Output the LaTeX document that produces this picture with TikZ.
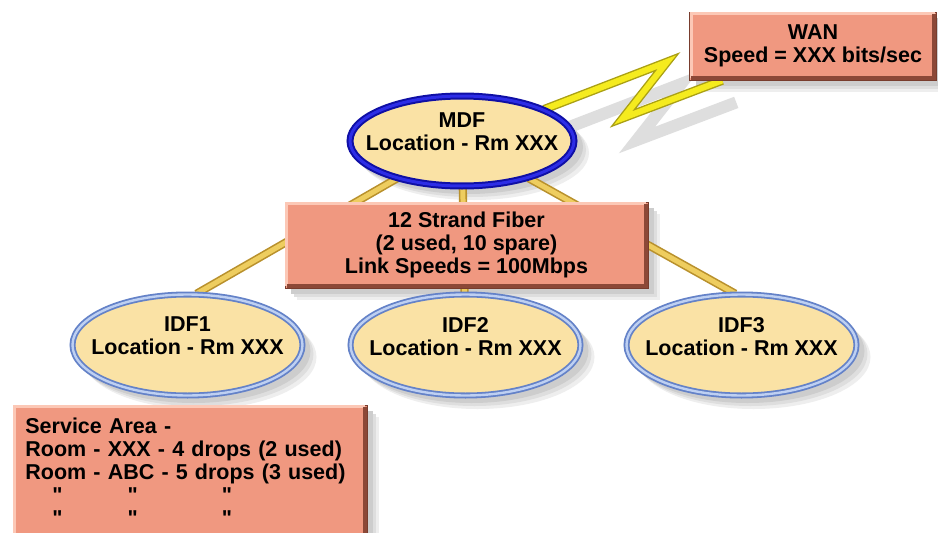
\documentclass[tikz,border=0pt]{standalone}
\usepackage{fontspec}
\setmainfont{Liberation Sans}[Ligatures=TeXOff]
\usetikzlibrary{shapes.geometric}
\pgfdeclarelayer{bg}
\pgfsetlayers{bg,main}
\definecolor{salmon}{RGB}{240,152,128}
\definecolor{salmonlight}{RGB}{252,200,182}
\definecolor{salmondark}{RGB}{140,72,55}
\definecolor{salmonedge}{RGB}{120,60,45}
\definecolor{ellfill}{RGB}{250,226,165}
\definecolor{mdfdark}{RGB}{15,15,165}
\definecolor{mdfmid}{RGB}{45,45,230}
\definecolor{idfdark}{RGB}{100,130,200}
\definecolor{idflight}{RGB}{190,208,242}
\definecolor{pipeedge}{RGB}{185,145,45}
\definecolor{pipefill}{RGB}{238,205,95}
\definecolor{boltfill}{RGB}{245,235,30}
\definecolor{boltedge}{RGB}{170,160,20}
\definecolor{shadeA}{RGB}{238,238,238}
\definecolor{shadeB}{RGB}{222,222,222}
\definecolor{shadeC}{RGB}{205,205,205}
\tikzset{
  lbl/.style={font=\bfseries\fontsize{21.5}{23}\selectfont, text=black},
  salmonbox/.style={lbl, rectangle, fill=salmon, draw=salmonedge, line width=0.8pt,
    inner sep=0pt, align=center},
  bevlight/.style={salmonlight, line width=3pt},
  bevdark/.style={salmondark, line width=4pt},
  ellbase/.style={lbl, ellipse, fill=ellfill, inner xsep=-45pt, inner ysep=-20pt,
    align=center, text depth=18pt},
  mdfnode/.style={ellbase, draw=mdfdark, double=mdfmid, line width=2pt, double distance=3pt,
    minimum width=224pt, minimum height=90pt},
  idfnode/.style={ellbase, draw=idfdark, double=idflight, line width=1.8pt, double distance=2.4pt,
    minimum width=230pt, minimum height=101pt},
  pipe/.style={draw=pipeedge, double=pipefill, line width=1.6pt, double distance=5pt},
  bolt/.style={draw=boltedge, double=boltfill, line width=1.4pt, double distance=6pt,
    line join=miter, miter limit=30},
  boltshadow/.style={draw=shadeB, line width=12pt, line join=miter, miter limit=30}
}
\begin{document}
\begin{tikzpicture}[x=1pt,y=-1pt]
\useasboundingbox (0,0) rectangle (938,533);
\begin{pgfonlayer}{bg}
  \fill[white] (0,0) rectangle (938,533);
  \foreach \s/\c in {12/shadeA, 9/shadeB, 6/shadeC}{
    \fill[\c] (689.5+\s,12+\s) rectangle (936.5+\s,80+\s);
    \fill[\c] (285+\s,202+\s) rectangle (648+\s,288+\s);
    \fill[\c] (13+\s,405+\s) rectangle (367+\s,545+\s);
    \fill[\c] (462+\s,141+\s) ellipse [x radius=115, y radius=47];
    \fill[\c] (187.5+\s,345+\s) ellipse [x radius=117, y radius=52];
    \fill[\c] (465.5+\s,345+\s) ellipse [x radius=117, y radius=52];
    \fill[\c] (741.5+\s,345+\s) ellipse [x radius=117, y radius=52];
  }
\end{pgfonlayer}

\node[salmonbox, minimum width=247pt, minimum height=68pt] (wan) at (813,46)
  {WAN\\Speed = XXX bits/sec};
\draw[bevlight] (691,78) -- (691,13.5) -- (934.5,13.5);
\draw[bevdark] (934,13.5) -- (934,77.5) -- (691,77.5);

\node[mdfnode] (mdf) at (462,141) {MDF\\Location - Rm XXX};

\node[salmonbox, minimum width=363pt, minimum height=86pt] (fiber) at (466.5,245)
  {12 Strand Fiber\\(2 used, 10 spare)\\Link Speeds = 100Mbps};
\draw[bevlight] (286.5,286) -- (286.5,203.5) -- (646,203.5);
\draw[bevdark] (645.5,203.5) -- (645.5,285.5) -- (287,285.5);

\node[idfnode] (idf1) at (187.5,345) {IDF1\\Location - Rm XXX};
\node[idfnode] (idf2) at (465.5,345) {IDF2\\Location - Rm XXX};
\node[idfnode] (idf3) at (741.5,345) {IDF3\\Location - Rm XXX};

\node[salmonbox, anchor=north west, minimum width=354pt, minimum height=132pt,
      align=left, text width=330pt] (svc) at (13,405)
  {Service Area -\\
   Room - XXX - 4 drops (2 used)\\
   Room - ABC - 5 drops (3 used)\\
   \hspace*{27pt}"\hspace*{65pt}"\hspace*{84pt}"\\
   \hspace*{27pt}"\hspace*{65pt}"\hspace*{84pt}"};
\draw[bevlight] (14.5,537) -- (14.5,406.5) -- (365,406.5);
\draw[bevdark] (364.5,406.5) -- (364.5,537);

\coordinate (b1) at (667,62);
\coordinate (b2) at (623,118);
\begin{pgfonlayer}{bg}
  \draw[boltshadow, transform canvas={shift={(14pt,-22pt)}}] (mdf) -- (b1) -- (b2) -- (wan);
  \draw[pipe] (mdf) -- (idf1.80);
  \draw[pipe] (mdf) -- (idf2);
  \draw[pipe] (mdf) -- (idf3.97);
  \draw[bolt] (mdf) -- (b1) -- (b2) -- (wan);
\end{pgfonlayer}
\end{tikzpicture}
\end{document}
